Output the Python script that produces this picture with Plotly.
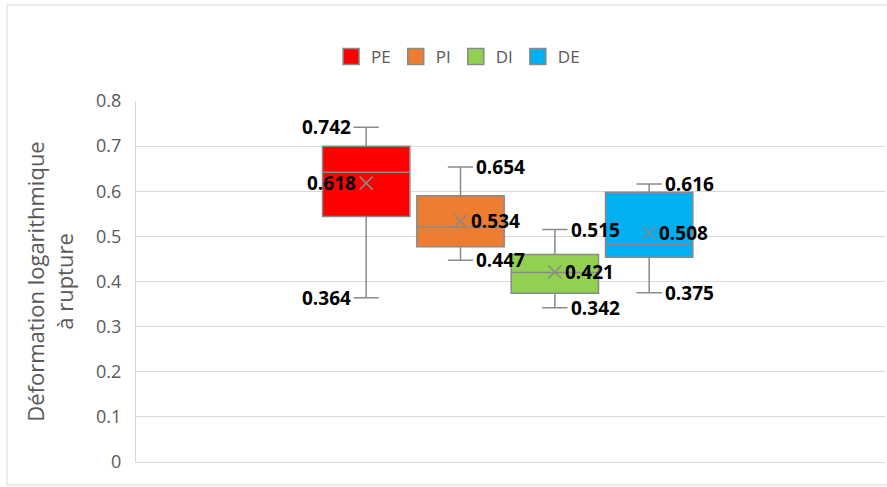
import plotly.graph_objects as go

# Series names and colours
groups = ["PE", "PI", "DI", "DE"]
colors = ["#FF0000", "#ED7D31", "#92D050", "#00B0F0"]

# Five-number summaries and means
q1 = [0.544, 0.477, 0.374, 0.454]
median = [0.642, 0.521, 0.420, 0.482]
q3 = [0.700, 0.590, 0.460, 0.598]
low = [0.364, 0.447, 0.342, 0.375]
high = [0.742, 0.654, 0.515, 0.616]
mean = [0.618, 0.534, 0.421, 0.508]

# Which side each group's value labels sit on
label_side = ["left", "right", "right", "right"]

y_ticks = [0, 0.1, 0.2, 0.3, 0.4, 0.5, 0.6, 0.7, 0.8]

GREY = "#8a8a8a"
TEXT = "#595959"
FONT = "Open Sans"
BOX_W = 0.926
WHISK = 0.29

fig = go.Figure()

for i, g in enumerate(groups):
    fig.add_trace(go.Box(
        x=[i], q1=[q1[i]], median=[median[i]], q3=[q3[i]],
        lowerfence=[low[i]], upperfence=[high[i]],
        width=BOX_W, whiskerwidth=WHISK,
        fillcolor=colors[i], line=dict(color=GREY, width=1.5),
        name=g, showlegend=False, hoverinfo="skip",
    ))
    # legend swatch
    fig.add_trace(go.Scatter(
        x=[None], y=[None], mode="markers", name=g,
        marker=dict(symbol="square", size=16, color=colors[i],
                    line=dict(color=GREY, width=1.5)),
    ))

# mean markers
fig.add_trace(go.Scatter(
    x=list(range(len(groups))), y=mean, mode="markers", showlegend=False,
    marker=dict(symbol="x-thin", size=13, line=dict(color=GREY, width=1.5)),
    hoverinfo="skip",
))

# value labels
cap_half = BOX_W * WHISK / 2
for i in range(len(groups)):
    side = label_side[i]
    sgn = -1 if side == "left" else 1
    anchor = "right" if side == "left" else "left"
    for val, dx, shift in [(high[i], cap_half, 0), (low[i], cap_half, 0), (mean[i], 0, 7)]:
        fig.add_annotation(
            x=i + sgn * dx, y=val, text=f"{val:.3f}", showarrow=False,
            xanchor=anchor, yanchor="middle", xshift=sgn * (shift + 1),
            font=dict(family=FONT, size=19, color="#000000", weight="bold"),
        )

fig.update_layout(
    width=887, height=487,
    margin=dict(l=136, r=2, t=101, b=25),
    paper_bgcolor="white", plot_bgcolor="white",
    font=dict(family=FONT, color=TEXT),
    showlegend=True,
    legend=dict(orientation="h", x=0.43, y=1.122, xanchor="center", yanchor="middle",
                font=dict(family=FONT, size=17, color=TEXT), itemwidth=30),
    xaxis=dict(range=[-2.44, 5.50], showticklabels=False, showgrid=False,
               zeroline=False, showline=True, linecolor="#d9d9d9", linewidth=1),
    yaxis=dict(range=[0, 0.8], tickvals=y_ticks, ticktext=[f"{v:g}" for v in y_ticks],
               showgrid=True, gridcolor="#d9d9d9", gridwidth=1, zeroline=False,
               showline=True, linecolor="#d9d9d9", linewidth=1,
               ticks="", ticklabelstandoff=10,
               tickfont=dict(family=FONT, size=18, color=TEXT),
               title=dict(text="Déformation logarithmique<br>à rupture",
                          font=dict(family=FONT, size=22, color=TEXT), standoff=16)),
    shapes=[dict(type="rect", xref="paper", yref="paper",
                 x0=-0.1722, x1=1.02, y0=-0.0637, y1=1.266,
                 line=dict(color="#d9d9d9", width=1), layer="below")],
)

fig.write_html("out.html")
